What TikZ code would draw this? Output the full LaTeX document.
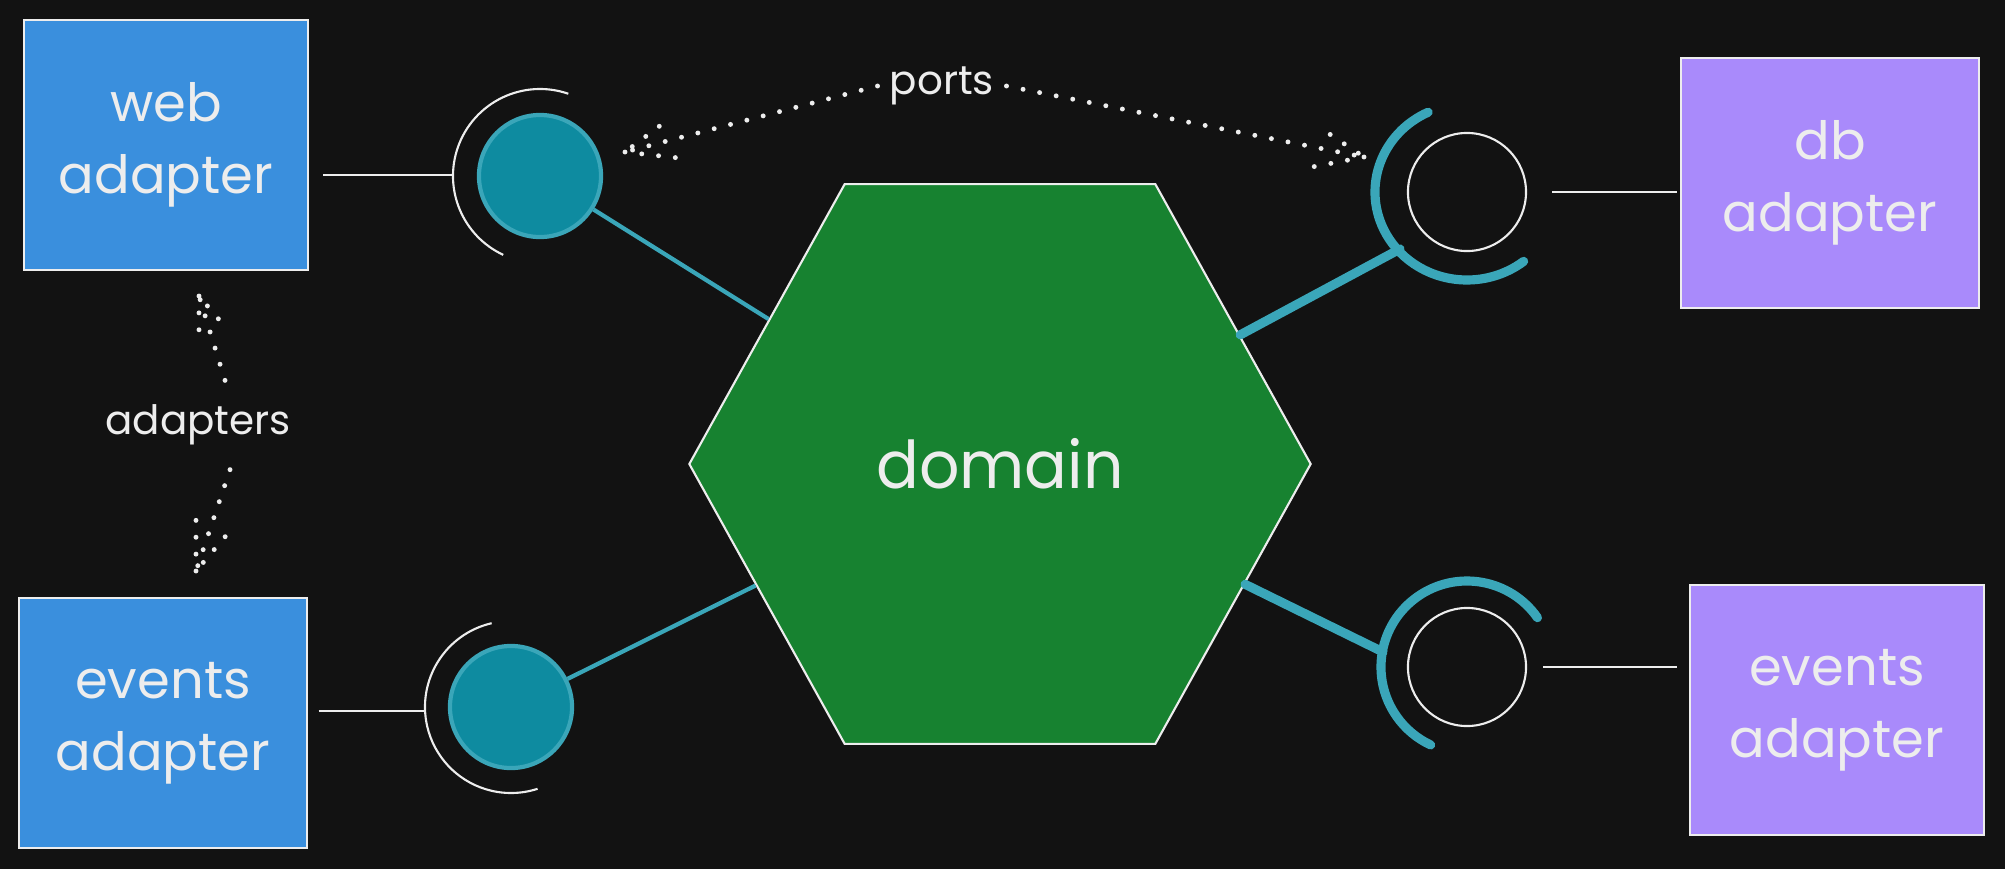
\documentclass[tikz,border=0pt]{standalone}
\usepackage{fontspec}
\setmainfont{Poppins}
\usetikzlibrary{shapes.geometric, arrows.meta}

\definecolor{canvas}{HTML}{121212}
\definecolor{chalk}{HTML}{EDEDED}
\definecolor{inblue}{HTML}{3A8FDD}
\definecolor{outviolet}{HTML}{A98AFB}
\definecolor{coregreen}{HTML}{178230}
\definecolor{portfill}{HTML}{0E8BA0}
\definecolor{portteal}{HTML}{3AA6B9}

\tikzset{
    adapter/.style     = {draw = chalk, line width = 0.6pt, minimum height = 2.5cm, text = chalk, align = center, font = \fontsize{15}{20.5}\selectfont},
    inbox/.style       = {adapter, fill = inblue},
    outbox/.style      = {adapter, fill = outviolet},
    core/.style        = {regular polygon, regular polygon sides = 6, minimum size = 6.21cm, yscale = 1.04, fill = coregreen, draw = chalk, line width = 0.6pt, text = chalk, font = \fontsize{18}{22}\selectfont},
    fullport/.style    = {circle, minimum size = 1.22cm, inner sep = 0pt, fill = portfill, draw = portteal, line width = 1.2pt},
    openport/.style    = {circle, minimum size = 1.18cm, inner sep = 0pt, draw = chalk, line width = 0.6pt},
    socket/.style      = {draw = chalk, line width = 0.6pt},
    thicksocket/.style = {draw = portteal, line width = 2.6pt, line cap = round},
    wire/.style        = {draw = chalk, line width = 0.7pt},
    link/.style        = {draw = portteal, line width = 1.2pt},
    thicklink/.style   = {draw = portteal, line width = 2.6pt, line cap = round},
    note/.style        = {text = chalk, font = \fontsize{11.5}{14}\selectfont},
    hint/.style        = {draw = chalk, line width = 1.4pt, line cap = round, dash pattern = on 0pt off 4.8pt},
}

\begin{document}
\begin{tikzpicture}[x = 0.01cm, y = -0.01cm]
    \useasboundingbox (0,0) rectangle (2005,869);
    \fill[canvas] (0,0) rectangle (2005,869);  % Dark canvas

    % The domain hexagon
    \node[core] (domain) at (1000,464) {domain};

    % Adapters on the left (driving side)
    \node[inbox, minimum width = 2.84cm] (webin) at (166,145) {web\\adapter};
    \node[inbox, minimum width = 2.87cm] (evin)  at (163,723) {events\\adapter};

    % Adapters on the right (driven side)
    \node[outbox, minimum width = 2.97cm] (dbout) at (1830,183) {db\\adapter};
    \node[outbox, minimum width = 2.93cm] (evout) at (1837,710) {events\\adapter};

    % Ports of the domain
    \node[fullport] (webport)   at (540,176)  {};
    \node[fullport] (evport)    at (511,707)  {};
    \node[openport] (dbport)    at (1467,192) {};
    \node[openport] (evoutport) at (1467,667) {};

    % Sockets round the ports
    \draw[socket] ([shift={(289:87)}]webport.center) arc[start angle = 289, end angle = 115, radius = 87];
    \draw[socket] ([shift={(257:86)}]evport.center)  arc[start angle = 257, end angle = 72,  radius = 86];
    \draw[thicksocket] ([shift={(245:92 and 88)}]dbport.center)
        arc[start angle = 245, end angle = 52, x radius = 92, y radius = 88];
    \draw[thicksocket] ([shift={(325:86)}]evoutport.center) arc[start angle = 325, end angle = 115, radius = 86];

    \coordinate (websock)   at (454,175);
    \coordinate (evsock)    at (425,711);
    \coordinate (dbsock)    at (1400,249);
    \coordinate (evoutsock) at (1383,652);

    % Wires between adapters and sockets
    \draw[wire, shorten <= 0.14cm] (webin.east |- websock) -- (websock);
    \draw[wire, shorten <= 0.11cm] (evin.east |- evsock) -- (evsock);
    \draw[wire, shorten <= 0.25cm, shorten >= 0.03cm] (dbport.east) -- (dbout.west |- dbport.east);
    \draw[wire, shorten <= 0.16cm, shorten >= 0.12cm] (evoutport.east) -- (evout.west |- evoutport.east);

    % Links from the domain to its ports
    \draw[link] (webport) -- (domain);
    \draw[link] (evport) -- (domain);
    \draw[thicklink] (domain) -- (dbsock);
    \draw[thicklink] (domain) -- (evoutsock);

    % Labels with their dotted hints
    \node[note] (ports)    at (942,86)  {ports};
    \node[note] (adapters) at (198,425) {adapters};

    \coordinate (portl) at (625,152);
    \coordinate (portr) at (1364,157);
    \coordinate (toweb) at (199,296);
    \coordinate (toev)  at (196,571);

    \draw[hint] (ports.west) -- (portl) -- ++(44,-33) (portl) -- ++(54,6);
    \draw[hint] (ports.east) -- (portr) -- ++(-45,-30) (portr) -- ++(-52,10);
    \draw[hint] ([xshift = 0.27cm, yshift = 0.12cm]adapters.north) -- (toweb) -- ++(28,33) (toweb) -- ++(0,43);
    \draw[hint] ([xshift = 0.32cm, yshift = -0.12cm]adapters.south) -- (toev) -- ++(34,-40) (toev) -- ++(0,-53);
\end{tikzpicture}
\end{document}
